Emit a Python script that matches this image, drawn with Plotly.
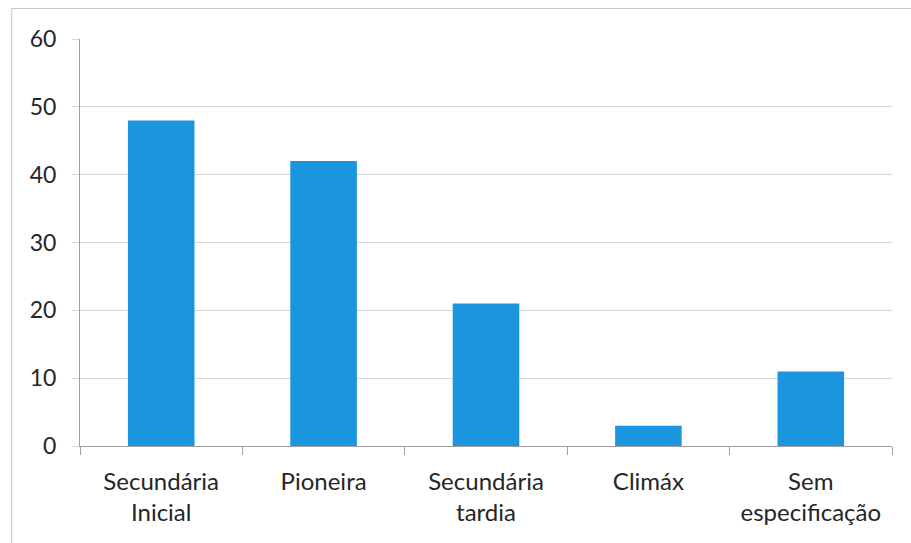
import plotly.graph_objects as go

# Successional groups and number of species in each
categories = ["Secundária Inicial", "Pioneira", "Secundária tardia", "Climáx", "Sem especificação"]
tick_labels = ["Secundária<br>Inicial", "Pioneira", "Secundária<br>tardia", "Climáx", "Sem<br>especificação"]
values = [48, 42, 21, 3, 11]
y_ticks = [0, 10, 20, 30, 40, 50, 60]

BAR = "#1b95de"
GRID = "#d6d6d6"
AXIS = "#a0a0a0"
TEXT = "#262626"
FONT = "Lato"

fig = go.Figure(
    go.Bar(
        x=categories,
        y=values,
        marker=dict(color=BAR, line=dict(width=0)),
        width=0.41,
        hoverinfo="x+y",
    )
)

fig.update_layout(
    width=911,
    height=543,
    margin=dict(l=80, r=19, t=39, b=97),
    paper_bgcolor="white",
    plot_bgcolor="white",
    showlegend=False,
    font=dict(family=FONT, size=23, color=TEXT),
    # thin frame around the chart area (left and top edges)
    shapes=[
        dict(type="line", xref="paper", yref="paper", x0=-0.084, x1=1.03, y0=1.075, y1=1.075,
             line=dict(color="#c8c8c8", width=1)),
        dict(type="line", xref="paper", yref="paper", x0=-0.084, x1=-0.084, y0=-0.25, y1=1.075,
             line=dict(color="#c8c8c8", width=1)),
    ],
)

fig.update_xaxes(
    type="category",
    tickmode="array",
    tickvals=categories,
    ticktext=tick_labels,
    showline=True,
    linecolor=AXIS,
    linewidth=1,
    ticks="outside",
    tickson="boundaries",
    ticklen=8,
    tickcolor=AXIS,
    showgrid=False,
    tickfont=dict(family=FONT, size=24, color=TEXT),
    ticklabelstandoff=14,
)

fig.update_yaxes(
    range=[0, 60],
    tickmode="array",
    tickvals=y_ticks,
    showline=True,
    linecolor=AXIS,
    linewidth=1,
    ticks="outside",
    ticklen=7,
    tickcolor=GRID,
    showgrid=True,
    gridcolor=GRID,
    gridwidth=1,
    zeroline=False,
    tickfont=dict(family=FONT, size=23, color=TEXT),
    ticklabelstandoff=11,
)

fig.write_html("out.html")
